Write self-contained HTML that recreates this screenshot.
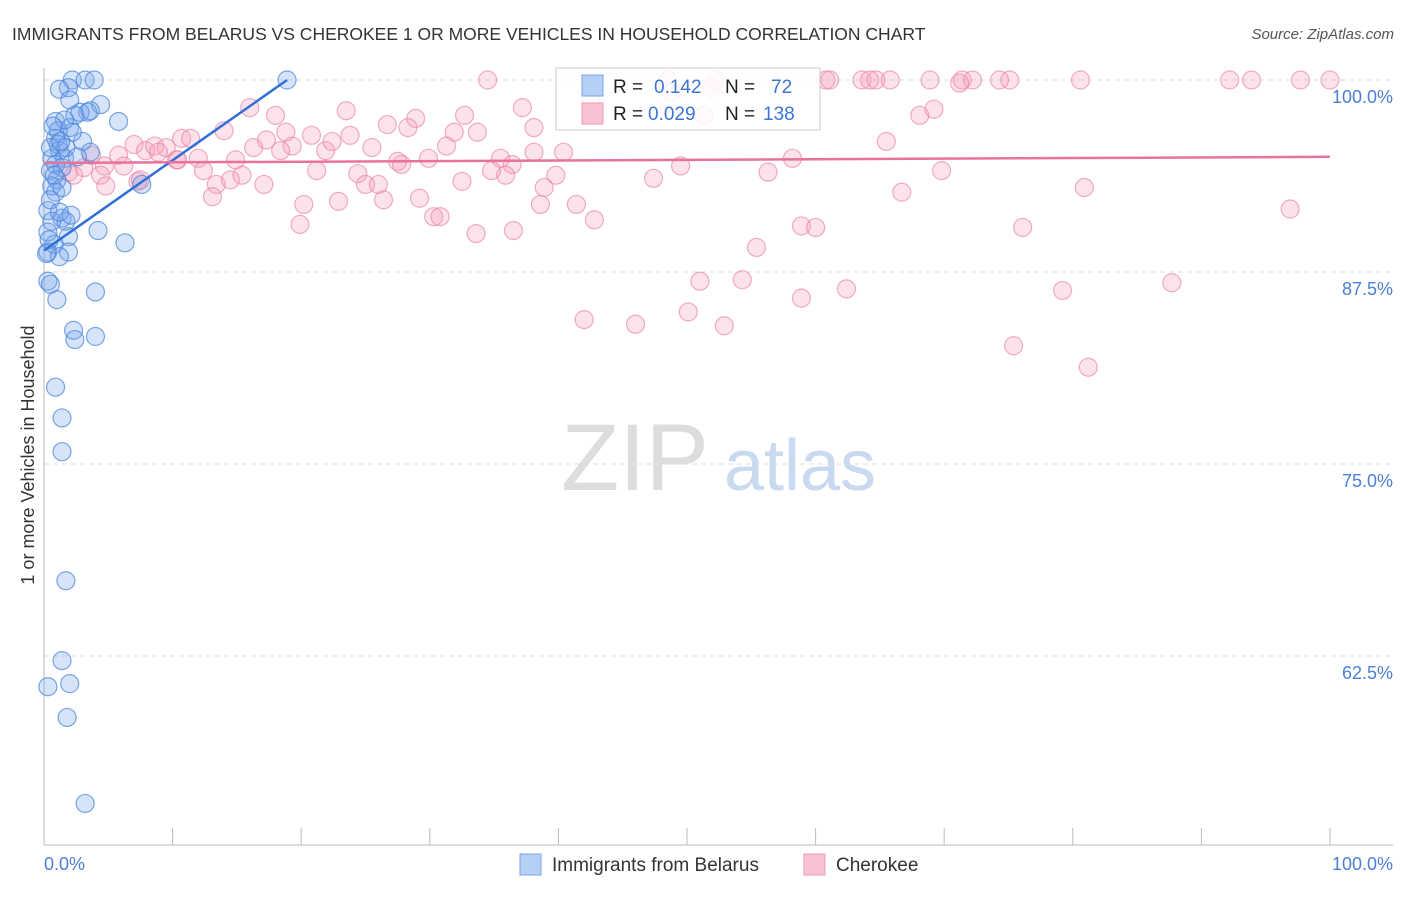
<!DOCTYPE html>
<html><head><meta charset="utf-8"><style>
body{margin:0;background:#fff;font-family:"Liberation Sans",sans-serif}
svg text{font-family:"Liberation Sans",sans-serif}
</style></head><body>
<svg id="chart" width="1406" height="892" xmlns="http://www.w3.org/2000/svg">
<text x="12" y="40" font-size="17.5" fill="#333">IMMIGRANTS FROM BELARUS VS CHEROKEE 1 OR MORE VEHICLES IN HOUSEHOLD CORRELATION CHART</text>
<text x="1394" y="39" font-size="15" fill="#555" text-anchor="end" font-style="italic">Source: ZipAtlas.com</text>
<g>
<text x="635" y="490" font-size="95" fill="#ddd" text-anchor="middle" font-family="Liberation Serif">ZIP</text>
<text x="800" y="490" font-size="72" fill="#c9d9f0" text-anchor="middle">atlas</text>
</g>
<g id="grid"></g>
<g id="axes"></g>
<g id="pink"></g>
<g id="blue"></g>
<g id="trends"></g>
<text transform="translate(34,455) rotate(-90)" font-size="18" fill="#333" text-anchor="middle">1 or more Vehicles in Household</text>
<g>
<rect x="556" y="68" width="264" height="62" fill="#fff" fill-opacity="0.85" stroke="#ccc"/>
<rect x="582" y="75" width="21" height="21" fill="#b5cff5" stroke="#7aa5e8"/>
<rect x="582" y="103" width="21" height="21" fill="#f9c2d2" stroke="#ee9ab5"/>
<text x="613" y="93" font-size="19" fill="#222">R = </text><text x="654" y="93" font-size="19" fill="#3b73d6">0.142</text>
<text x="725" y="93" font-size="19" fill="#222">N = </text><text x="771" y="93" font-size="19" fill="#3b73d6">72</text>
<text x="613" y="120" font-size="19" fill="#222">R = </text><text x="648" y="120" font-size="19" fill="#3b73d6">0.029</text>
<text x="725" y="120" font-size="19" fill="#222">N = </text><text x="763" y="120" font-size="19" fill="#3b73d6">138</text>
</g>
<g>
<rect x="520" y="854" width="21" height="21" fill="#b5cff5" stroke="#7aa5e8"/>
<text x="552" y="871" font-size="19" fill="#333">Immigrants from Belarus</text>
<rect x="804" y="854" width="21" height="21" fill="#f9c2d2" stroke="#ee9ab5"/>
<text x="836" y="871" font-size="19" fill="#333">Cherokee</text>
</g>
</svg>
<script>
const yTicks=[100,87.5,75,62.5];
const yTickLabels=["100.0%","87.5%","75.0%","62.5%"];
const xTickLabels=["0.0%","100.0%"];
const blueData=[[2.2,100],[3.2,100],[3.9,100],[1.9,99.5],[1.2,99.4],[4.4,98.4],[3.4,97.9],[2.8,97.9],[5.8,97.3],[0.9,97.3],[2.0,96.9],[1.1,96.7],[3.0,96.0],[0.9,96.2],[3.6,95.3],[1.2,95.4],[0.6,94.9],[1.6,94.9],[0.9,94.5],[1.4,94.3],[0.5,94.1],[1.0,93.5],[0.6,93.1],[0.9,92.7],[7.6,93.2],[0.3,91.5],[1.4,91.0],[1.7,90.8],[0.6,90.8],[4.2,90.2],[0.3,90.1],[1.9,89.8],[6.3,89.4],[0.8,89.3],[0.3,88.8],[1.9,88.8],[0.3,86.9],[0.5,86.7],[4.0,86.2],[1.0,85.7],[2.3,83.7],[2.4,83.1],[4.0,83.3],[0.9,80.0],[1.4,78.0],[1.4,75.8],[1.7,67.4],[1.4,62.2],[2.0,60.7],[0.3,60.5],[1.8,58.5],[3.2,52.9],[18.9,100],[1.1,95.8],[1.7,95.6],[0.5,92.2],[0.8,93.8],[1.2,91.4],[1.2,88.5],[2.0,98.7],[2.4,97.7],[2.2,96.6],[0.5,95.6],[1.6,97.4],[2.6,95.0],[1.4,93.0],[0.4,89.6],[2.1,91.2],[0.7,97.0],[1.3,96.0],[0.2,88.7],[3.6,98.0]];
const pinkData=[[34.5,100],[48.5,100],[52.2,100],[60.8,100],[61.1,100],[63.6,100],[64.7,100],[65.8,100],[68.9,100],[71.4,100],[72.2,100],[75.1,100],[80.6,100],[92.2,100],[93.9,100],[97.7,100],[100,100],[51.9,99.5],[48.8,99.2],[42.5,98.7],[37.2,98.2],[23.5,98.0],[51.3,97.7],[16.0,98.2],[18.0,97.7],[28.9,97.5],[32.7,97.7],[38.1,96.9],[26.7,97.1],[28.3,96.9],[14.0,96.7],[17.3,96.1],[18.8,96.6],[20.8,96.4],[23.8,96.4],[31.9,96.6],[33.7,96.6],[7.0,95.8],[7.9,95.4],[8.6,95.7],[9.5,95.6],[10.7,96.2],[11.4,96.2],[16.3,95.6],[19.3,95.7],[18.4,95.4],[21.9,95.4],[22.4,96.0],[25.5,95.6],[31.3,95.7],[38.1,95.3],[40.4,95.3],[12.0,94.9],[14.9,94.8],[10.3,94.8],[5.8,95.1],[6.2,94.4],[4.7,94.4],[3.1,94.3],[1.9,94.0],[4.4,93.8],[2.3,93.8],[4.8,93.1],[7.3,93.4],[10.4,94.8],[12.4,94.1],[13.4,93.2],[14.5,93.5],[15.4,93.8],[17.1,93.2],[21.2,94.1],[24.4,93.9],[27.5,94.7],[27.8,94.5],[29.9,94.9],[35.5,94.9],[36.4,94.5],[34.8,94.1],[35.9,93.8],[39.8,93.8],[38.9,93.0],[32.5,93.4],[25.0,93.2],[26.0,93.2],[26.4,92.2],[29.2,92.3],[13.1,92.4],[20.2,91.9],[22.9,92.1],[30.3,91.1],[30.8,91.1],[33.6,90.0],[36.5,90.2],[41.4,91.9],[42.8,90.9],[19.9,90.6],[38.6,91.9],[47.4,93.6],[49.5,94.4],[56.3,94.0],[58.2,94.9],[65.5,96.0],[68.1,97.7],[69.2,98.1],[69.8,94.1],[66.7,92.7],[80.9,93.0],[96.9,91.6],[76.1,90.4],[55.4,89.1],[58.9,90.5],[60.0,90.4],[51.0,86.9],[54.3,87.0],[62.4,86.4],[58.9,85.8],[79.2,86.3],[87.7,86.8],[50.1,84.9],[42.0,84.4],[46.0,84.1],[52.9,84.0],[75.4,82.7],[81.2,81.3],[71.2,99.8],[64.2,100],[74.3,100],[7.5,93.5],[8.9,95.3],[3.7,95.1]];
const blueTrend=[[0,88.9],[18.9,100]];
const pinkTrend=[[0,94.6],[100,95.0]];
const NS="http://www.w3.org/2000/svg";
const X=v=>44+v*12.86;
const Y=v=>80+(100-v)*15.36;
function mk(tag,parent,attrs){const e=document.createElementNS(NS,tag);for(const k in attrs)e.setAttribute(k,attrs[k]);document.getElementById(parent).appendChild(e);return e;}
yTicks.forEach((t,i)=>{
 const l=mk('line','grid',{x1:44,x2:1393,y1:Y(t),y2:Y(t),stroke:'#ddd','stroke-dasharray':'5,4'});
 
 
 const tx=mk('text','axes',{x:1393,y:Y(t)+23,'font-size':18,fill:'#4a7fd8','text-anchor':'end'});
 tx.textContent=yTickLabels[i];
 
 
});
mk('line','axes',{x1:44,x2:44,y1:68,y2:845,stroke:'#bbb'});
mk('line','axes',{x1:44,x2:1393,y1:845,y2:845,stroke:'#bbb'});
for(let i=0;i<=10;i++){const t=mk('line','axes',{x1:X(i*10),x2:X(i*10),y1:828,y2:845,stroke:'#bbb'});}
[[0,'start'],[100,'end']].forEach((p,i)=>{const t=mk('text','axes',{x:i?1393:44,y:870,'font-size':18,fill:'#4a7fd8','text-anchor':p[1]});t.textContent=xTickLabels[i];});
pinkData.forEach(d=>{const c=mk('circle','pink',{cx:X(d[0]),cy:Y(d[1]),r:9,fill:'rgba(244,160,188,0.3)',stroke:'rgba(232,130,165,0.65)','stroke-width':1.2});
 
 });
blueData.forEach(d=>{const c=mk('circle','blue',{cx:X(d[0]),cy:Y(d[1]),r:9,fill:'rgba(120,165,235,0.3)',stroke:'rgba(70,130,220,0.7)','stroke-width':1.2});
 
 });
const bt=mk('line','trends',{x1:X(blueTrend[0][0]),y1:Y(blueTrend[0][1]),x2:X(blueTrend[1][0]),y2:Y(blueTrend[1][1]),stroke:'#2f6fd8','stroke-width':2.5});


const pt=mk('line','trends',{x1:X(pinkTrend[0][0]),y1:Y(pinkTrend[0][1]),x2:X(pinkTrend[1][0]),y2:Y(pinkTrend[1][1]),stroke:'#e8729a','stroke-width':2.5});


</script>
</body></html>
